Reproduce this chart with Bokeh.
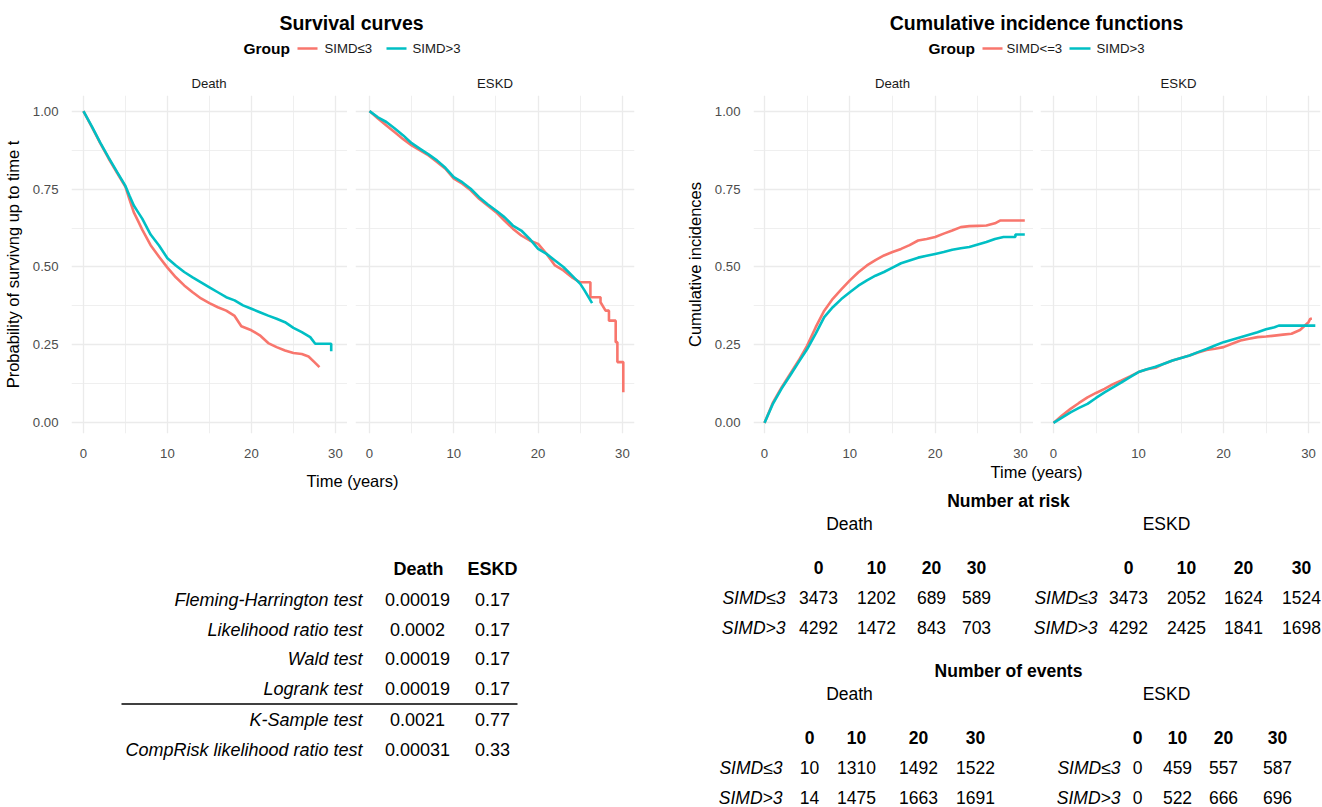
from bokeh.plotting import figure
from bokeh.models import Range1d, LinearAxis, Grid, FixedTicker, PrintfTickFormatter
from bokeh.layouts import column, row
from bokeh.embed import file_html
from bokeh.resources import INLINE
from bokeh.core.properties import value

# ---------------- data ----------------
group_labels_surv = ["SIMD≤3", "SIMD>3"]
group_labels_cif = ["SIMD<=3", "SIMD>3"]
facet_labels = ["Death", "ESKD"]

x_major = [0, 10, 20, 30]
x_minor = [5, 15, 25]
y_major = [0, 0.25, 0.5, 0.75, 1.0]
y_minor = [0.125, 0.375, 0.625, 0.875]

# Survival, Death
surv_death_t_le3 = [0, 1, 2, 3, 4, 5, 5.5, 6, 6.5, 7, 8, 9, 10, 11, 12, 13, 14, 15, 16, 17, 18, 18.8,
                    20, 21, 22, 23, 24, 25, 26, 26.8, 27.5, 28.1]
surv_death_s_le3 = [1.0, 0.949, 0.897, 0.848, 0.802, 0.757, 0.715, 0.675, 0.648, 0.62, 0.57, 0.533, 0.498,
                    0.467, 0.441, 0.419, 0.399, 0.384, 0.371, 0.36, 0.343, 0.31, 0.297, 0.281, 0.256, 0.243,
                    0.232, 0.224, 0.221, 0.213, 0.195, 0.179]
surv_death_t_gt3 = [0, 1, 2, 3, 4, 5, 5.5, 6, 6.5, 7, 8, 9, 10, 11, 12, 13, 14, 15, 16, 17, 18, 19, 20, 21,
                    22, 23, 24, 25, 26, 27, 27.6, 29.5, 29.5]
surv_death_s_gt3 = [1.0, 0.951, 0.899, 0.851, 0.805, 0.76, 0.728, 0.697, 0.676, 0.655, 0.604, 0.569, 0.528,
                    0.505, 0.484, 0.467, 0.451, 0.435, 0.419, 0.403, 0.393, 0.377, 0.366, 0.355, 0.344, 0.334,
                    0.323, 0.305, 0.291, 0.275, 0.254, 0.254, 0.23]

# Survival, ESKD
surv_eskd_t_le3 = [0, 1, 2, 3, 4, 5, 6, 7, 8, 9, 10, 11, 12, 13, 14, 15, 16, 17, 18, 19, 20, 21, 22, 23, 24,
                   25, 25.6, 26.2, 26.2, 27.4, 27.4, 28.0, 28.4, 28.4, 29.2, 29.2, 29.4, 29.4, 30.1, 30.1]
surv_eskd_s_le3 = [1.0, 0.976, 0.954, 0.932, 0.91, 0.89, 0.874, 0.858, 0.837, 0.815, 0.783, 0.767, 0.746,
                   0.719, 0.697, 0.676, 0.649, 0.623, 0.601, 0.585, 0.574, 0.542, 0.505, 0.489, 0.467, 0.451,
                   0.451, 0.451, 0.403, 0.403, 0.387, 0.36, 0.36, 0.328, 0.328, 0.259, 0.259, 0.195, 0.195,
                   0.098]
surv_eskd_t_gt3 = [0, 1, 2, 3, 4, 5, 6, 7, 8, 9, 10, 11, 12, 13, 14, 15, 16, 17, 18, 19, 20, 21, 22, 23, 24,
                   25, 25.5, 26.4]
surv_eskd_s_gt3 = [1.0, 0.98, 0.965, 0.944, 0.922, 0.897, 0.879, 0.861, 0.842, 0.818, 0.788, 0.772, 0.751,
                   0.724, 0.701, 0.681, 0.66, 0.633, 0.617, 0.59, 0.558, 0.542, 0.521, 0.5, 0.473, 0.446,
                   0.425, 0.384]

# Cumulative incidence, Death
cif_death_t_le3 = [0, 1, 2, 3, 4, 5, 6, 7, 8, 9, 10, 11, 12, 13, 14, 15, 16, 17, 18, 19, 20, 21, 22, 23, 24,
                   25, 26, 27, 27.6, 30.5]
cif_death_v_le3 = [0, 0.066, 0.114, 0.157, 0.2, 0.248, 0.307, 0.36, 0.398, 0.428, 0.457, 0.483, 0.505,
                   0.522, 0.537, 0.548, 0.558, 0.57, 0.585, 0.59, 0.596, 0.607, 0.617, 0.628, 0.631, 0.632,
                   0.633, 0.64, 0.649, 0.649]
cif_death_t_gt3 = [0, 1, 2, 3, 4, 5, 6, 7, 8, 9, 10, 11, 12, 13, 14, 15, 16, 17, 18, 19, 20, 21, 22, 23, 24,
                   25, 26, 27, 28, 29.4, 29.4, 30.5]
cif_death_v_gt3 = [0, 0.062, 0.11, 0.152, 0.195, 0.237, 0.286, 0.339, 0.371, 0.397, 0.419, 0.44, 0.457,
                   0.472, 0.484, 0.498, 0.512, 0.521, 0.53, 0.536, 0.542, 0.548, 0.555, 0.56, 0.564, 0.572,
                   0.58, 0.59, 0.596, 0.596, 0.604, 0.604]

# Cumulative incidence, ESKD
cif_eskd_t_le3 = [0, 1, 2, 3, 4, 5, 6, 7, 8, 9, 10, 11, 12, 13, 14, 15, 16, 17, 18, 19, 20, 21, 22, 23, 24,
                  25, 26, 27, 28, 29, 30, 30.2, 30.4]
cif_eskd_v_le3 = [0, 0.024, 0.045, 0.064, 0.082, 0.096, 0.109, 0.124, 0.136, 0.149, 0.163, 0.172, 0.177,
                  0.19, 0.2, 0.208, 0.216, 0.226, 0.234, 0.238, 0.243, 0.254, 0.264, 0.27, 0.275, 0.277,
                  0.28, 0.283, 0.286, 0.298, 0.323, 0.334, 0.334]
cif_eskd_t_gt3 = [0, 1, 2, 3, 4, 5, 6, 7, 8, 9, 10, 11, 12, 13, 14, 15, 16, 17, 18, 19, 20, 21, 22, 23, 24,
                  25, 26, 26.5, 30.8]
cif_eskd_v_gt3 = [0, 0.017, 0.034, 0.048, 0.061, 0.08, 0.098, 0.114, 0.13, 0.147, 0.163, 0.172, 0.18, 0.19,
                  0.2, 0.208, 0.216, 0.227, 0.237, 0.248, 0.259, 0.267, 0.275, 0.283, 0.291, 0.3, 0.307,
                  0.312, 0.312]

# Tests table
test_names = ["Fleming-Harrington test", "Likelihood ratio test", "Wald test", "Logrank test",
              "K-Sample test", "CompRisk likelihood ratio test"]
test_p_death = ["0.00019", "0.0002", "0.00019", "0.00019", "0.0021", "0.00031"]
test_p_eskd = ["0.17", "0.17", "0.17", "0.17", "0.77", "0.33"]

# Number at risk / events tables
table_times = ["0", "10", "20", "30"]
table_groups = ["SIMD≤3", "SIMD>3"]
risk_death_le3 = [3473, 1202, 689, 589]
risk_death_gt3 = [4292, 1472, 843, 703]
risk_eskd_le3 = [3473, 2052, 1624, 1524]
risk_eskd_gt3 = [4292, 2425, 1841, 1698]
events_death_le3 = [10, 1310, 1492, 1522]
events_death_gt3 = [14, 1475, 1663, 1691]
events_eskd_le3 = [0, 459, 557, 587]
events_eskd_gt3 = [0, 522, 666, 696]

# ---------------- style ----------------
RED = "#F8766D"
TEAL = "#00BFC4"
FONT = "Liberation Sans"
GRID = "#EBEBEB"
LW = 2.6
YR = (-0.034, 1.05)
W_TOTAL = 1322


def make_panel(width, bl, br, xr, ylabel=None):
    p = figure(width=width, height=365, x_range=Range1d(*xr), y_range=Range1d(*YR),
               x_axis_location=None, y_axis_location=None, toolbar_location=None,
               output_backend="svg", title=None,
               min_border_left=bl, min_border_right=br, min_border_top=0, min_border_bottom=27)
    p.outline_line_color = None
    p.background_fill_color = "white"
    p.border_fill_color = "white"
    p.grid.visible = False
    p.add_layout(Grid(dimension=0, ticker=FixedTicker(ticks=x_major, minor_ticks=x_minor),
                      grid_line_color=GRID, grid_line_width=1.3,
                      minor_grid_line_color=GRID, minor_grid_line_width=0.8))
    p.add_layout(Grid(dimension=1, ticker=FixedTicker(ticks=y_major, minor_ticks=y_minor),
                      grid_line_color=GRID, grid_line_width=1.3,
                      minor_grid_line_color=GRID, minor_grid_line_width=0.8))
    xa = LinearAxis(ticker=FixedTicker(ticks=x_major), axis_line_color=None,
                    major_tick_line_color=None, minor_tick_line_color=None,
                    major_label_standoff=9, major_label_text_font=FONT,
                    major_label_text_font_size="13.2px", major_label_text_color="#4D4D4D")
    p.add_layout(xa, "below")
    if ylabel is not None:
        ya = LinearAxis(ticker=FixedTicker(ticks=y_major), formatter=PrintfTickFormatter(format="%.2f"),
                        axis_line_color=None, major_tick_line_color=None, minor_tick_line_color=None,
                        major_label_standoff=7, major_label_text_font=FONT,
                        major_label_text_font_size="13.2px", major_label_text_color="#4D4D4D",
                        axis_label=ylabel, axis_label_text_font=FONT,
                        axis_label_text_font_size="16.5px", axis_label_text_font_style="normal",
                        axis_label_text_color="#000000", axis_label_standoff=8)
        p.add_layout(ya, "left")
    return p


pA = make_panel(347, 70, 0, (-1.42, 31.44), "Probability of survivng up to time t")
pA.line(surv_death_t_le3, surv_death_s_le3, line_color=RED, line_width=LW)
pA.line(surv_death_t_gt3, surv_death_s_gt3, line_color=TEAL, line_width=LW)

pB = make_panel(314, 8, 27, (-1.66, 31.43))
pB.line(surv_eskd_t_le3, surv_eskd_s_le3, line_color=RED, line_width=LW)
pB.line(surv_eskd_t_gt3, surv_eskd_s_gt3, line_color=TEAL, line_width=LW)

pC = make_panel(372, 92, 0, (-1.29, 31.52), "Cumulative incidences")
pC.line(cif_death_t_le3, cif_death_v_le3, line_color=RED, line_width=LW)
pC.line(cif_death_t_gt3, cif_death_v_gt3, line_color=TEAL, line_width=LW)

pD = make_panel(289, 7, 2, (-1.53, 31.41))
pD.line(cif_eskd_t_le3, cif_eskd_v_le3, line_color=RED, line_width=LW)
pD.line(cif_eskd_t_gt3, cif_eskd_v_gt3, line_color=TEAL, line_width=LW)


def canvas(y0, y1):
    c = figure(width=W_TOTAL, height=int(y1 - y0), x_range=Range1d(0, W_TOTAL), y_range=Range1d(y1, y0),
               x_axis_location=None, y_axis_location=None, toolbar_location=None,
               output_backend="svg", title=None, min_border=0)
    c.grid.visible = False
    c.outline_line_color = None
    c.background_fill_color = "white"
    c.border_fill_color = "white"
    return c


def txt(c, x, y, s, size, align="center", style="normal", color="#000000"):
    c.text(x=[x], y=[y], text=[s], text_align=align, text_baseline="middle",
           text_font=value(FONT), text_font_size=value(size), text_font_style=style,
           text_color=color)


# ---------------- header ----------------
hdr = canvas(0, 95)
txt(hdr, 351, 22, "Survival curves", "19.5px", style="bold")
txt(hdr, 1036, 22, "Cumulative incidence functions", "19.5px", style="bold")
for gx, segs, labx, labels in (
        (243, [(297, 317), (386, 406)], [324, 412], group_labels_surv),
        (928, [(982, 1002), (1069, 1090)], [1006, 1096], group_labels_cif)):
    txt(hdr, gx, 48, "Group", "15.5px", align="left", style="bold")
    for (sx0, sx1), col in zip(segs, [RED, TEAL]):
        hdr.segment(x0=[sx0], y0=[48], x1=[sx1], y1=[48], line_color=col, line_width=LW)
    for lx, lab in zip(labx, labels):
        txt(hdr, lx, 48, lab, "13.2px", align="left", color="#1A1A1A")
for sx, lab in zip([208.5, 494.5, 892, 1178], facet_labels * 2):
    txt(hdr, sx, 83, lab, "13.2px", color="#1A1A1A")

# ---------------- bottom ----------------
bot = canvas(460, 807)
txt(bot, 352, 480, "Time (years)", "16.5px")
txt(bot, 1036, 471, "Time (years)", "16.5px")

# tests table
FS_L = "18px"
txt(bot, 418, 568, facet_labels[0], FS_L, style="bold")
txt(bot, 492, 568, facet_labels[1], FS_L, style="bold")
rows_y = [599, 629, 658, 688, 719, 749]
for yy, name, pd_, pe in zip(rows_y, test_names, test_p_death, test_p_eskd):
    txt(bot, 362, yy, name, FS_L, align="right", style="italic")
    txt(bot, 417, yy, pd_, FS_L)
    txt(bot, 492, yy, pe, FS_L)
bot.segment(x0=[121], y0=[703.5], x1=[517], y1=[703.5], line_color="#000000", line_width=1.3)

# risk & events tables
FS_R = "17.5px"


def small_table(c, title_y, cols_l, lab_l, cols_r, lab_r, title, dl_le3, dl_gt3, dr_le3, dr_gt3):
    txt(c, 1008, title_y, title, FS_R, style="bold")
    txt(c, 849, title_y + 23, facet_labels[0], FS_R)
    txt(c, 1166, title_y + 23, facet_labels[1], FS_R)
    hy = title_y + 67
    for cols, labx, d1, d2 in ((cols_l, lab_l, dl_le3, dl_gt3), (cols_r, lab_r, dr_le3, dr_gt3)):
        for cx, tt in zip(cols, table_times):
            txt(c, cx, hy, tt, FS_R, style="bold")
        for k, (gname, dat) in enumerate(zip(table_groups, [d1, d2])):
            yy = hy + 30 + 30 * k
            txt(c, labx, yy, gname, FS_R, align="right", style="italic")
            for cx, vv in zip(cols, dat):
                txt(c, cx, yy, str(vv), FS_R)


small_table(bot, 500, [818, 876, 931, 976], 785, [1128, 1186, 1243, 1301], 1097, "Number at risk",
            risk_death_le3, risk_death_gt3, risk_eskd_le3, risk_eskd_gt3)
small_table(bot, 670, [809, 856, 918, 975], 782, [1137, 1177, 1223, 1277], 1120, "Number of events",
            events_death_le3, events_death_gt3, events_eskd_le3, events_eskd_gt3)

layout = column(hdr, row(pA, pB, pC, pD), bot)
open("out.html", "w").write(file_html(layout, INLINE))
